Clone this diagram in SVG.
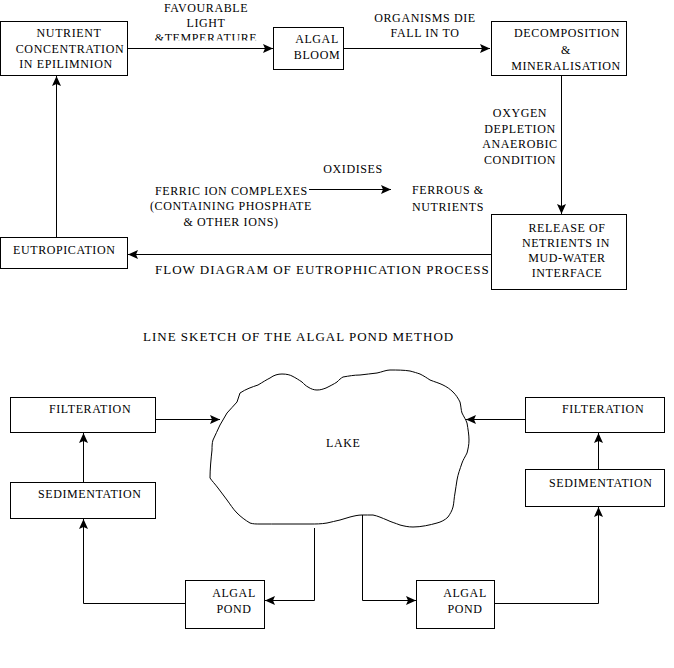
<svg xmlns="http://www.w3.org/2000/svg" width="674" height="668" viewBox="0 0 674 668">
<style>
text { font-family: "Liberation Serif", "Times New Roman", serif; font-size: 12px; letter-spacing: 0.6px; fill: #000; }
.t { font-size: 13px; letter-spacing: 1px; }
.m { text-anchor: middle; }
.box { fill: #fff; stroke: #000; stroke-width: 1; }
.ln { fill: none; stroke: #000; stroke-width: 1; }
</style>
<defs>
<marker id="ah" markerWidth="11" markerHeight="9" refX="10" refY="4.5" orient="auto" markerUnits="userSpaceOnUse">
<path d="M0,0 L10,4.5 L0,9 L2,4.5 z" fill="#000"/>
</marker>
<clipPath id="clipT"><rect x="140" y="28" width="130" height="12.5"/></clipPath>
</defs>
<rect width="674" height="668" fill="#fff"/>

<g id="connectors">
<path class="ln" d="M127.5,48.5 H273" marker-end="url(#ah)"/>
<path class="ln" d="M343.5,48.5 H490" marker-end="url(#ah)"/>
<path class="ln" d="M561.5,75.5 V214" marker-end="url(#ah)"/>
<path class="ln" d="M491.5,254.5 H128" marker-end="url(#ah)"/>
<path class="ln" d="M56.5,237.5 V76" marker-end="url(#ah)"/>
<path class="ln" d="M309,189.5 H391" marker-end="url(#ah)"/>
<path class="ln" d="M155.5,419.5 H220" marker-end="url(#ah)"/>
<path class="ln" d="M83.5,482.5 V433" marker-end="url(#ah)"/>
<path class="ln" d="M185.5,603.5 H83.5 V519" marker-end="url(#ah)"/>
<path class="ln" d="M314.5,528 V600.5 H265" marker-end="url(#ah)"/>
<path class="ln" d="M525.5,419.5 H466" marker-end="url(#ah)"/>
<path class="ln" d="M598.5,469.5 V433" marker-end="url(#ah)"/>
<path class="ln" d="M494.5,603.5 H598.5 V507" marker-end="url(#ah)"/>
<path class="ln" d="M362.5,515 V600.5 H416" marker-end="url(#ah)"/>
</g>

<g id="labels">
<text class="m" x="206" y="12">FAVOURABLE</text>
<text class="m" x="206" y="27">LIGHT</text>
<text class="m" x="206" y="42" clip-path="url(#clipT)">&amp;TEMPERATURE</text>
<text class="m" x="425" y="22">ORGANISMS DIE</text>
<text class="m" x="425" y="37">FALL IN TO</text>
<text class="m" x="520" y="117">OXYGEN</text>
<text class="m" x="520" y="133">DEPLETION</text>
<text class="m" x="520" y="148">ANAEROBIC</text>
<text class="m" x="520" y="164">CONDITION</text>
<text class="m" x="353" y="173">OXIDISES</text>
<text x="155" y="195">FERRIC ION COMPLEXES</text>
<text class="m" x="231" y="210">(CONTAINING PHOSPHATE</text>
<text class="m" x="231" y="226">&amp; OTHER IONS)</text>
<text x="412" y="194">FERROUS &amp;</text>
<text x="412" y="211">NUTRIENTS</text>
<text class="t" x="155" y="274">FLOW DIAGRAM OF EUTROPHICATION PROCESS</text>
<text class="t" x="143" y="341">LINE SKETCH OF THE ALGAL POND METHOD</text>
</g>

<g id="nutrient">
<rect class="box" x="0.5" y="21.5" width="127" height="54"/>
<text class="m" x="69" y="37">NUTRIENT</text>
<text class="m" x="70" y="53">CONCENTRATION</text>
<text class="m" x="66" y="68">IN EPILIMNION</text>
</g>
<g id="algal-bloom">
<rect class="box" x="273.5" y="27.5" width="70" height="42"/>
<text class="m" x="317" y="43">ALGAL</text>
<text class="m" x="317" y="59">BLOOM</text>
</g>
<g id="decomposition">
<rect class="box" x="491.5" y="21.5" width="135" height="54"/>
<text class="m" x="567" y="37">DECOMPOSITION</text>
<text class="m" x="566" y="54">&amp;</text>
<text class="m" x="566" y="70">MINERALISATION</text>
</g>
<g id="release">
<rect class="box" x="491.5" y="214.5" width="135" height="75"/>
<text class="m" x="567" y="232">RELEASE OF</text>
<text class="m" x="566" y="247">NETRIENTS IN</text>
<text class="m" x="567" y="262">MUD-WATER</text>
<text class="m" x="567" y="277">INTERFACE</text>
</g>
<g id="eutropication">
<rect class="box" x="0.5" y="237.5" width="127" height="31"/>
<text x="13" y="254">EUTROPICATION</text>
</g>

<g id="lake">
<path class="ln" d="M240,393 C246,389 252,387 258,385 C263,382 266,380 270,378 C274,375 278,374 282,374 C287,374 290,375 292,376 C296,378 299,380 302,382 C304,384 306,386 308,387 C311,389 314,390 317,390 C321,390 323,389 326,388 C330,386 334,384 337,382 C339,380 341,378 343,377 C349,376 354,375 360,375 C366,374 371,374 377,373 C382,372 386,370 390,370 C397,370 404,370 410,371 C414,372 417,373 420,374 C424,376 427,378 430,380 C435,382 439,383 443,385 C447,387 450,389 453,392 C456,395 458,398 460,402 C461,406 461,410 462,413 C464,417 466,420 467,423 C468,429 469,435 469,440 C469,445 468,449 467,453 C465,457 463,460 462,463 C460,469 458,474 457,480 C456,484 456,489 455,493 C454,498 454,503 453,507 C452,511 450,514 448,517 C445,520 441,522 437,523 C430,525 421,527 413,527 C408,527 404,526 400,525 C395,523 391,522 387,520 C382,518 378,516 373,515 C369,515 366,515 362,515 C358,515 354,516 350,517 C347,518 343,519 340,520 C336,521 331,522 327,523 C321,524 316,524 310,524 C301,524 292,524 283,524 C275,524 268,524 260,524 C256,524 253,524 250,523 C245,520 241,517 237,513 C233,509 230,504 227,500 C224,496 221,492 218,488 C215,484 212,481 210,478 C210,469 211,459 212,450 C212,447 212,443 213,440 C215,435 218,430 220,425 C222,421 225,417 227,413 C230,409 234,406 237,402 C238,399 239,396 240,393 Z"/>
<text x="326" y="447">LAKE</text>
</g>

<g id="filteration-left">
<rect class="box" x="10.5" y="397.5" width="145" height="35"/>
<text x="49" y="413">FILTERATION</text>
</g>
<g id="sedimentation-left">
<rect class="box" x="10.5" y="482.5" width="145" height="36"/>
<text x="38" y="498">SEDIMENTATION</text>
</g>
<g id="algal-pond-left">
<rect class="box" x="185.5" y="580.5" width="79" height="48"/>
<text class="m" x="234" y="597">ALGAL</text>
<text class="m" x="234" y="613">POND</text>
</g>
<g id="filteration-right">
<rect class="box" x="525.5" y="397.5" width="139" height="35"/>
<text x="562" y="413">FILTERATION</text>
</g>
<g id="sedimentation-right">
<rect class="box" x="525.5" y="469.5" width="139" height="37"/>
<text x="549" y="487">SEDIMENTATION</text>
</g>
<g id="algal-pond-right">
<rect class="box" x="416.5" y="580.5" width="78" height="48"/>
<text class="m" x="465" y="597">ALGAL</text>
<text class="m" x="465" y="613">POND</text>
</g>
</svg>
